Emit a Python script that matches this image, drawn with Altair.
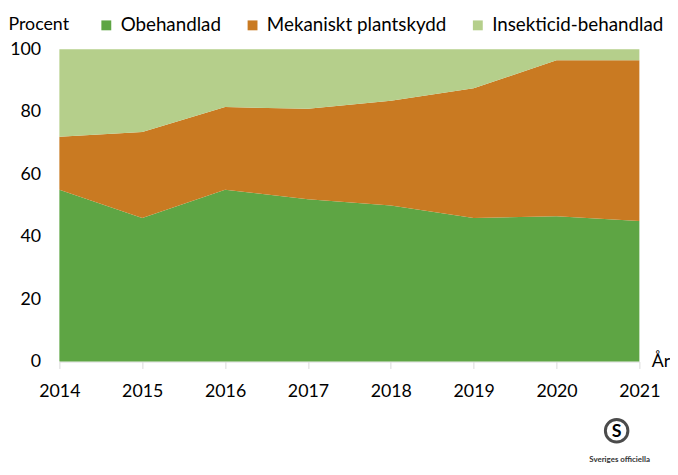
import altair as alt
import pandas as pd

years = [2014, 2015, 2016, 2017, 2018, 2019, 2020, 2021]
categories = ["Obehandlad", "Mekaniskt plantskydd", "Insekticid-behandlad"]
obehandlad = [55, 46, 55, 52, 50, 46, 46.5, 45]
mekaniskt = [17, 27.5, 26.5, 29, 33.5, 41.5, 50, 51.5]
insekticid = [28, 26.5, 18.5, 19, 16.5, 12.5, 3.5, 3.5]
colors = ["#5ea544", "#c97a22", "#b5cf8b"]

rows = []
for i, y in enumerate(years):
    for k, (cat, vals) in enumerate(zip(categories, [obehandlad, mekaniskt, insekticid])):
        rows.append({"År": y, "Kategori": cat, "Procent": vals[i], "idx": k})
df = pd.DataFrame(rows)

FONT = "Lato"

area = alt.Chart(df).mark_area(opacity=1).encode(
    x=alt.X("År:Q",
            scale=alt.Scale(domain=[2014, 2021], nice=False, zero=False),
            axis=alt.Axis(values=years, format="d", title="År", titleAngle=0,
                          titleX=599, titleY=0, titleAlign="left", titleBaseline="middle",
                          titleFontWeight="normal", titleFontSize=18, titleFont=FONT, titleColor="#000",
                          labelFontSize=18, labelFont=FONT, labelColor="#000", labelPadding=14,
                          labelFlush=False, labelOverlap=False,
                          domainColor="#d9d9d9", tickColor="#d9d9d9", tickSize=7, grid=False)),
    y=alt.Y("Procent:Q", stack="zero",
            scale=alt.Scale(domain=[0, 100], nice=False),
            axis=alt.Axis(values=[0, 20, 40, 60, 80, 100], title="Procent", titleAngle=0,
                          titleX=-52, titleY=-25, titleAlign="left", titleBaseline="middle",
                          titleFontWeight="normal", titleFontSize=18, titleFont=FONT, titleColor="#000",
                          labelFontSize=18, labelFont=FONT, labelColor="#000", labelPadding=19,
                          labelFlush=False, labelOverlap=False,
                          domain=False, ticks=False, grid=False)),
    color=alt.Color("Kategori:N",
                    scale=alt.Scale(domain=categories, range=colors),
                    legend=alt.Legend(title=None, orient="none", direction="horizontal",
                                      legendX=38, legendY=-34, symbolType="square", symbolSize=100,
                                      symbolStrokeWidth=0, labelFontSize=19, labelFont=FONT,
                                      labelColor="#000", columnPadding=22, labelOffset=5,
                                      labelLimit=400)),
    order=alt.Order("idx:Q"),
)

one = pd.DataFrame({"a": [0]})
logo_circle = alt.Chart(one).mark_point(
    shape="circle", filled=False, stroke="#000", strokeWidth=3, size=520
).encode(x=alt.value(564), y=alt.value(386))
logo_s = alt.Chart(one).mark_text(
    text="S", font=FONT, fontSize=18, fontWeight="bold", color="#000", baseline="middle"
).encode(x=alt.value(564), y=alt.value(387))
logo_txt = alt.Chart(one).mark_text(
    text="Sveriges officiella", font=FONT, fontSize=8, fontWeight="bold", color="#333", baseline="middle"
).encode(x=alt.value(567), y=alt.value(416))

chart = alt.layer(area, logo_circle, logo_s, logo_txt).properties(
    width=587, height=316,
    autosize=alt.AutoSizeParams(type="none"),
    padding={"left": 52, "top": 39, "right": 31, "bottom": 112},
).configure_view(stroke=None)

chart.save("out.html", embed_options={"renderer": "svg", "actions": False})
